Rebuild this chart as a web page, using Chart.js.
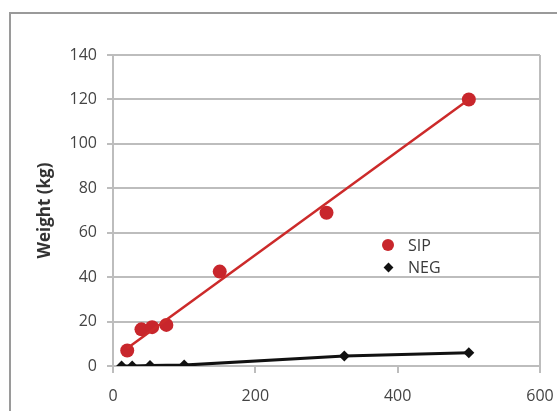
<!DOCTYPE html>
<html>
<head>
<meta charset="utf-8">
<script src="https://cdn.jsdelivr.net/npm/chart.js@4"></script>
<style>
  html, body { margin: 0; padding: 0; background: #fff; overflow: hidden; }
  #wrap { position: relative; width: 557px; height: 411px; }
  #frame { position: absolute; left: 9px; top: 12px; width: 600px; height: 450px; border: 2px solid #9a9a9a; box-sizing: border-box; }
  canvas { position: absolute; left: 0; top: 0; }
  .leg { position: absolute; font-family: "Open Sans", sans-serif; font-size: 16px; color: #3a3a3a; line-height: 20px; }
  .dot { position: absolute; width: 12px; height: 12px; border-radius: 50%; background: #c8262c; }
  .dia { position: absolute; width: 7px; height: 7px; background: #111; transform: rotate(45deg); }
</style>
</head>
<body>
<div id="wrap">
  <div id="frame"></div>
  <canvas id="myChart" width="557" height="411"></canvas>
  <div class="dot" style="left:382px; top:239px;"></div>
  <div class="leg" style="left:408px; top:235px;">SIP</div>
  <div class="dia" style="left:385px; top:264px;"></div>
  <div class="leg" style="left:408px; top:257px;">NEG</div>
</div>
<script>
const sipX = [20, 40, 55, 75, 150, 300, 500];
const sipY = [7, 16.5, 17.5, 18.5, 42.5, 69, 120];

const sipTrendX = [20, 500];
const sipTrendY = [8, 120];

const negX = [12, 27, 52, 100, 325, 500];
const negY = [0, 0, 0.2, 0.4, 4.5, 6];

const xTicks = [0, 200, 400, 600];
const yTicks = [0, 20, 40, 60, 80, 100, 120, 140];

const toPoints = (xs, ys) => xs.map((x, i) => ({ x: x, y: ys[i] }));

const gridGray = "#bdbdbd";
const tickFont = { family: "Open Sans", size: 16 };

const ctx = document.querySelector("#myChart");
const myChart = new Chart(ctx, {
  type: "scatter",
  data: {
    datasets: [
      {
        label: "SIP trend",
        data: toPoints(sipTrendX, sipTrendY),
        showLine: true,
        borderColor: "#cc2a2a",
        borderWidth: 2.5,
        pointRadius: 0,
      },
      {
        label: "SIP",
        data: toPoints(sipX, sipY),
        backgroundColor: "#c8262c",
        borderColor: "#c8262c",
        pointRadius: 7,
        pointBorderWidth: 0,
      },
      {
        label: "NEG",
        data: toPoints(negX, negY),
        showLine: true,
        borderColor: "#111",
        backgroundColor: "#111",
        borderWidth: 3,
        pointStyle: "rectRot",
        pointRadius: 5.5,
        pointBorderWidth: 0,
      },
    ],
  },
  options: {
    responsive: false,
    animation: false,
    layout: { padding: { left: 35, top: 55, right: 17, bottom: 0 } },
    plugins: { legend: { display: false }, tooltip: { enabled: false } },
    scales: {
      x: {
        type: "linear",
        min: 0,
        max: 600,
        afterBuildTicks: (scale) => {
          scale.ticks = xTicks.map((v) => ({ value: v }));
        },
        afterFit: (scale) => {
          scale.height = 45;
          scale.paddingLeft = 0;
          scale.paddingRight = 0;
        },
        border: { display: false },
        grid: {
          color: (c) => (c.tick && c.tick.value === 600 ? gridGray : "rgba(0,0,0,0)"),
          tickColor: gridGray,
          lineWidth: 2,
          tickLength: 7,
        },
        ticks: { color: "#444", font: tickFont, padding: 14, maxRotation: 0 },
      },
      y: {
        min: 0,
        max: 140,
        afterBuildTicks: (scale) => {
          scale.ticks = yTicks.map((v) => ({ value: v }));
        },
        afterFit: (scale) => {
          scale.width = 78;
          scale.paddingTop = 0;
          scale.paddingBottom = 0;
        },
        border: { color: gridGray, width: 2 },
        grid: { color: gridGray, lineWidth: 2, tickLength: 6 },
        ticks: { color: "#444", font: tickFont, padding: 10 },
        title: {
          display: true,
          text: "Weight (kg)",
          color: "#333",
          font: { family: "Open Sans", size: 17, weight: "bold" },
          padding: { top: 0, bottom: 0 },
        },
      },
    },
  },
});
</script>
</body>
</html>
